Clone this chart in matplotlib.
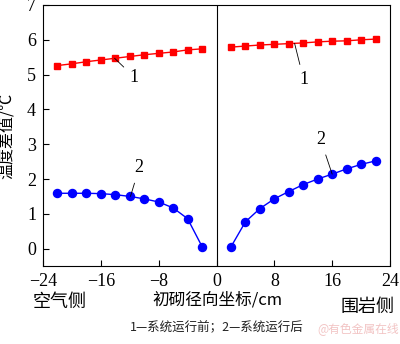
import matplotlib.pyplot as plt

# 数据
x_air = [-22, -20, -18, -16, -14, -12, -10, -8, -6, -4, -2]
x_rock = [2, 4, 6, 8, 10, 12, 14, 16, 18, 20, 22]
before_air = [5.26, 5.31, 5.37, 5.42, 5.47, 5.52, 5.57, 5.61, 5.65, 5.71, 5.74]
before_rock = [5.79, 5.82, 5.85, 5.87, 5.89, 5.91, 5.94, 5.96, 5.97, 6.00, 6.02]
after_air = [1.59, 1.59, 1.59, 1.58, 1.55, 1.50, 1.43, 1.34, 1.17, 0.86, 0.06]
after_rock = [0.05, 0.77, 1.15, 1.43, 1.64, 1.84, 2.00, 2.14, 2.29, 2.42, 2.52]
xticks = [-24, -16, -8, 0, 8, 16, 24]
yticks = [0, 1, 2, 3, 4, 5, 6, 7]

serif = ['Liberation Serif', 'DejaVu Serif']
cjk = ['Noto Sans CJK SC', 'DejaVu Sans']

fig = plt.figure(figsize=(4.0, 3.44), dpi=100)
ax = fig.add_axes([0.1075, 0.2267, 0.8675, 0.7588])

ax.plot(x_air, before_air, color='red', marker='s', markersize=5, linewidth=1)
ax.plot(x_rock, before_rock, color='red', marker='s', markersize=5, linewidth=1)
ax.plot(x_air, after_air, color='blue', marker='o', markersize=5.8, linewidth=1)
ax.plot(x_rock, after_rock, color='blue', marker='o', markersize=5.8, linewidth=1)

ax.axvline(0, color='black', linewidth=0.8)

ax.set_xlim(-24, 24)
ax.set_ylim(-0.5, 7)
ax.set_xticks(xticks)
ax.set_xticklabels(['\u221224', '\u221216', '\u22128', '0', '8', '16', '24'])
ax.set_yticks(yticks)
ax.tick_params(direction='in', length=4, width=0.8, labelsize=13, pad=5)
for lab in ax.get_xticklabels() + ax.get_yticklabels():
    lab.set_family(serif)
for s in ax.spines.values():
    s.set_linewidth(0.8)

# 标注
arrow = dict(arrowstyle='-', color='black', lw=0.6, shrinkA=3, shrinkB=0)
ax.annotate('1', xy=(-14.1, 5.47), xytext=(-11.4, 4.93), fontsize=13, family=serif,
            ha='center', va='center', arrowprops=arrow)
ax.annotate('1', xy=(10.8, 5.90), xytext=(12.06, 4.85), fontsize=13, family=serif,
            ha='center', va='center', arrowprops=arrow)
ax.annotate('2', xy=(-11.9, 1.5), xytext=(-10.7, 2.32), fontsize=13, family=serif,
            ha='center', va='center', arrowprops=arrow)
ax.annotate('2', xy=(16, 2.14), xytext=(14.4, 3.13), fontsize=13, family=serif,
            ha='center', va='center', arrowprops=arrow)

ax.set_ylabel('温度差值/℃', fontsize=11.5, family=cjk)
ax.yaxis.set_label_coords(-0.078, 0.5)

fig.text(0.5425, 0.128, '初砌径向坐标/cm', fontsize=12, family=cjk, ha='center', va='center')
fig.text(0.15, 0.122, '空气侧', fontsize=13, family=cjk, ha='center', va='center')
fig.text(0.92, 0.108, '围岩侧', fontsize=13, family=cjk, ha='center', va='center')
fig.text(0.5425, 0.047, '1—系统运行前；2—系统运行后', fontsize=9, family=cjk,
         ha='center', va='center', color='#222222')
fig.text(0.895, 0.045, '@有色金属在线', fontsize=8.5, family=cjk, ha='center', va='center',
         color='#f2c4c4')

fig.savefig('out.png', dpi=100)
